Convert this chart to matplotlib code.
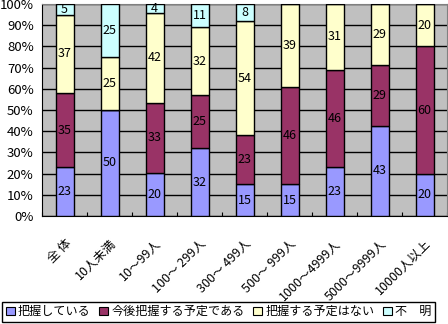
import matplotlib
matplotlib.use("Agg")
import matplotlib.pyplot as plt
import numpy as np
from matplotlib.patches import Patch

plt.rcParams['font.family'] = ['Noto Sans CJK JP', 'DejaVu Sans']

categories = ['全 体', '10人未満', '10～99人', '100～ 299人', '300～ 499人',
              '500～ 999人', '1000～4999人', '5000～9999人', '10000人以上']
series_names = ['把握している', '今後把握する予定である', '把握する予定はない', '不　明']
grasped = [23, 50, 20, 32, 15, 15, 23, 43, 20]
planned = [35, 0, 33, 25, 23, 46, 46, 29, 60]
no_plan = [37, 25, 42, 32, 54, 39, 31, 29, 20]
unknown = [5, 25, 4, 11, 8, 0, 0, 0, 0]
colors = ['#9999FF', '#993366', '#FFFFCC', '#CCFFFF']

data = np.array([grasped, planned, no_plan, unknown], dtype=float)
shares = data / data.sum(axis=0) * 100  # 100% stacked

fig = plt.figure(figsize=(4.48, 3.24), dpi=100)
ax = fig.add_axes([42/448, 1 - 216/324, 405/448, 212/324])
ax.set_facecolor('#C0C0C0')
x = np.arange(len(categories))
bottom = np.zeros(len(categories))
for i in range(4):
    ax.bar(x, shares[i], 0.4, bottom=bottom, color=colors[i],
           edgecolor='black', linewidth=1.0, zorder=3)
    for j in range(len(categories)):
        if data[i, j] > 0:
            ax.text(x[j], bottom[j] + shares[i, j] / 2, f'{int(data[i, j])}',
                    ha='center', va='center', fontsize=9, zorder=4)
    bottom += shares[i]

ax.set_xlim(-0.5, len(categories) - 0.5)
ax.set_ylim(0, 100)
ax.set_yticks(np.arange(0, 101, 10))
ax.set_yticklabels([f'{v}%' for v in range(0, 101, 10)], fontsize=9.5)
ax.yaxis.grid(True, color='black', linewidth=1.0, zorder=1)
ax.set_axisbelow(True)
ax.tick_params(axis='y', length=0, pad=6)
ax.set_xticks(np.arange(len(categories) + 1) - 0.5, minor=False)
ax.set_xticklabels([])
ax.tick_params(axis='x', direction='in', length=3, color='black')
ax.set_xticks(x, minor=True)
ax.set_xticklabels(categories, minor=True, rotation=45, ha='right',
                   rotation_mode='anchor', fontsize=9)
ax.tick_params(axis='x', which='minor', length=0, pad=15)
for s in ['top', 'right']:
    ax.spines[s].set_color('#808080')
for s in ['left', 'bottom']:
    ax.spines[s].set_color('black')

handles = [Patch(facecolor=c, edgecolor='black', linewidth=0.8) for c in colors]
leg = fig.legend(handles, series_names, loc='lower left',
                 bbox_to_anchor=(1/448, 1/324), ncol=4, fontsize=8.7,
                 fancybox=False, framealpha=1, edgecolor='black',
                 handlelength=0.75, handleheight=0.75, handletextpad=0.25,
                 columnspacing=0.7, borderpad=0.3, borderaxespad=0.1)
leg.get_frame().set_linewidth(1.0)

fig.savefig('out.png', dpi=100)
